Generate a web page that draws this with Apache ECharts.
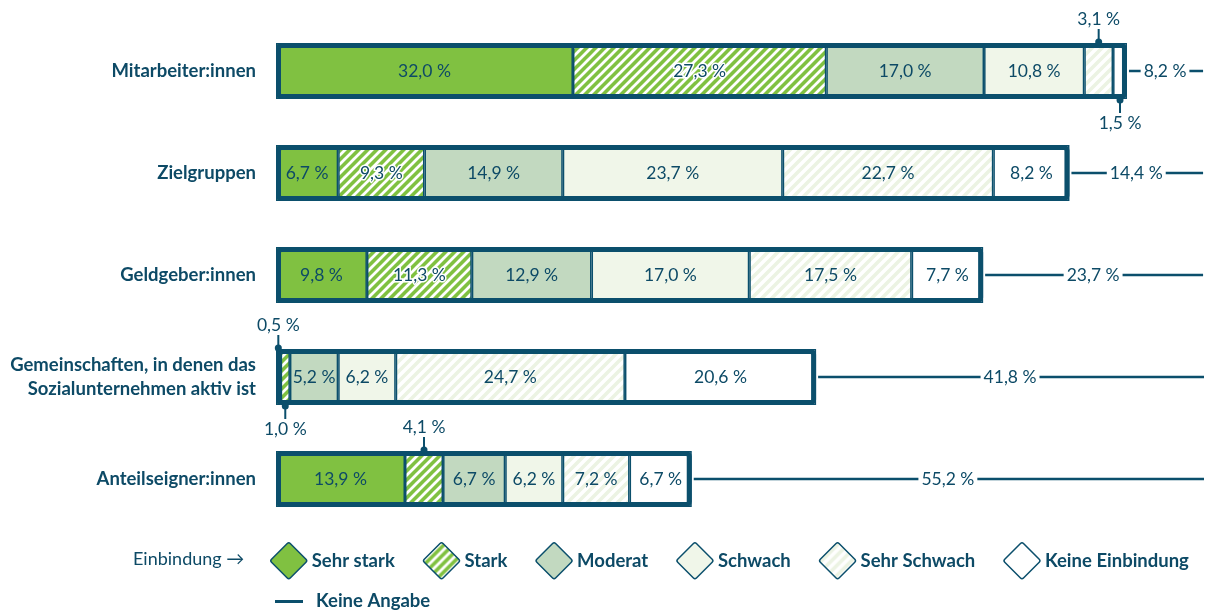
<!DOCTYPE html>
<html>
<head>
<meta charset="utf-8">
<script src="https://cdn.jsdelivr.net/npm/echarts@6/dist/echarts.min.js"></script>
<style>
  html, body { margin: 0; padding: 0; background: #fff; }
  #chart { width: 1209px; height: 611px; }
</style>
</head>
<body>
<div id="chart"></div>
<script>
const categories = [
  'Mitarbeiter:innen',
  'Zielgruppen',
  'Geldgeber:innen',
  'Gemeinschaften, in denen das\nSozialunternehmen aktiv ist',
  'Anteilseigner:innen'
]
const sehrStark = [32.0, 6.7, 9.8, 0.5, 13.9]
const stark = [27.3, 9.3, 11.3, 1.0, 4.1]
const moderat = [17.0, 14.9, 12.9, 5.2, 6.7]
const schwach = [10.8, 23.7, 17.0, 6.2, 6.2]
const sehrSchwach = [3.1, 22.7, 17.5, 24.7, 7.2]
const keineEinbindung = [1.5, 8.2, 7.7, 20.6, 6.7]
const keineAngabe = [8.2, 14.4, 23.7, 41.8, 55.2]
// [category index, segment index, side] for values too small to label inside
const outsideLabels = [[0, 4, 'top'], [0, 5, 'bottom'], [3, 0, 'top'], [3, 1, 'bottom'], [4, 1, 'top']]

const DARK = '#0b4f6c'
const TEXT = '#0d4a66'
const BAR_H = 56
const FONT = 'Lato, "Noto Sans", sans-serif'
const VALUE_SIZE = 17.5

const stripes = (bg, fg, size, width) => {
  const c = document.createElement('canvas')
  c.width = size
  c.height = size
  const ctx = c.getContext('2d')
  ctx.fillStyle = bg
  ctx.fillRect(0, 0, size, size)
  ctx.strokeStyle = fg
  ctx.lineWidth = width
  ctx.lineCap = 'square'
  for (const off of [-size, 0, size]) {
    ctx.beginPath()
    ctx.moveTo(off, size)
    ctx.lineTo(off + size, 0)
    ctx.stroke()
  }
  return { image: c, repeat: 'repeat' }
}

const fmt = (v) => v.toFixed(1).replace('.', ',') + ' %'

const segments = [
  { name: 'Sehr stark', data: sehrStark, color: '#80c141' },
  { name: 'Stark', data: stark, color: stripes('#80c141', '#ffffff', 9, 2.8), halo: true },
  { name: 'Moderat', data: moderat, color: '#c2d9c0' },
  { name: 'Schwach', data: schwach, color: '#f0f6e9' },
  { name: 'Sehr Schwach', data: sehrSchwach, color: stripes('#ffffff', '#ecf3e3', 10, 3.6) },
  { name: 'Keine Einbindung', data: keineEinbindung, color: '#ffffff' }
]

const isOutside = (ci, si) => outsideLabels.some((o) => o[0] === ci && o[1] === si)

const totals = categories.map((_, i) => segments.reduce((s, seg) => s + seg.data[i], 0))

const segmentStart = (ci, si) => {
  let s = 0
  for (let k = 0; k < si; k++) s += segments[k].data[ci]
  return s
}

const barSeries = segments.map((seg, si) => ({
  name: seg.name,
  type: 'bar',
  stack: 'total',
  barWidth: BAR_H,
  barGap: '-100%',
  data: seg.data,
  itemStyle: { color: seg.color, borderColor: DARK, borderWidth: 1.5 },
  label: {
    show: true,
    position: 'inside',
    color: TEXT,
    fontFamily: FONT,
    fontSize: VALUE_SIZE,
    textBorderColor: seg.halo ? '#fff' : 'transparent',
    textBorderWidth: seg.halo ? 3 : 0,
    formatter: (p) => (isOutside(p.dataIndex, si) ? '' : fmt(p.value))
  },
  emphasis: { disabled: true },
  z: 2
}))

const frameSeries = {
  name: 'frame',
  type: 'bar',
  barWidth: BAR_H,
  barGap: '-100%',
  data: totals,
  silent: true,
  itemStyle: { color: 'transparent', borderColor: DARK, borderWidth: 5, borderRadius: 3 },
  z: 3
}

const kaSeries = {
  name: 'Keine Angabe',
  type: 'custom',
  data: categories.map((_, i) => [i, totals[i], keineAngabe[i]]),
  itemStyle: { color: DARK },
  z: 4,
  silent: true,
  renderItem: (params, api) => {
    const ci = api.value(0)
    const start = api.value(1)
    const val = api.value(2)
    const a = api.coord([start, ci])
    const b = api.coord([start + val, ci])
    return {
      type: 'group',
      children: [
        { type: 'line', shape: { x1: a[0] + 2, y1: a[1], x2: b[0], y2: b[1] }, style: { stroke: DARK, lineWidth: 2.5 } },
        {
          type: 'text',
          x: (a[0] + b[0]) / 2,
          y: a[1],
          style: {
            text: fmt(val), fill: TEXT, font: VALUE_SIZE + 'px ' + FONT,
            align: 'center', verticalAlign: 'middle',
            backgroundColor: '#fff', padding: [2, 3]
          }
        }
      ]
    }
  }
}

const annotationSeries = {
  name: 'annotations',
  type: 'custom',
  data: outsideLabels.map((o) => {
    const v = segments[o[1]].data[o[0]]
    return [o[0], segmentStart(o[0], o[1]) + v / 2, v, o[2] === 'top' ? -1 : 1]
  }),
  z: 5,
  silent: true,
  renderItem: (params, api) => {
    const p = api.coord([api.value(1), api.value(0)])
    const dir = api.value(3)
    const edge = p[1] + dir * (BAR_H / 2 + 1)
    return {
      type: 'group',
      children: [
        { type: 'line', shape: { x1: p[0], y1: edge, x2: p[0], y2: edge + dir * 13 }, style: { stroke: DARK, lineWidth: 2 } },
        { type: 'circle', shape: { cx: p[0], cy: edge, r: 3.5 }, style: { fill: DARK } },
        {
          type: 'text',
          x: p[0],
          y: edge + dir * 14,
          style: {
            text: fmt(api.value(2)), fill: TEXT, font: VALUE_SIZE + 'px ' + FONT,
            align: 'center', verticalAlign: dir < 0 ? 'bottom' : 'top'
          }
        }
      ]
    }
  }
}

const chart = echarts.init(document.getElementById('chart'))
chart.setOption({
  animation: false,
  textStyle: { fontFamily: FONT },
  grid: { left: 276, right: 5, top: 20, bottom: 81 },
  xAxis: { type: 'value', min: 0, max: 100, show: false },
  yAxis: {
    type: 'category',
    inverse: true,
    data: categories,
    axisLine: { show: false },
    axisTick: { show: false },
    axisLabel: {
      margin: 20,
      color: TEXT,
      fontFamily: FONT,
      fontWeight: 'bold',
      fontSize: 18.5,
      lineHeight: 24,
      align: 'right',
      padding: [0, 0, 6, 0]
    }
  },
  legend: [
    {
      data: segments.map((s) => s.name),
      left: 265,
      top: 537,
      itemWidth: 36,
      itemHeight: 36,
      itemGap: 28,
      icon: 'path://M46,4 Q50,0 54,4 L96,46 Q100,50 96,54 L54,96 Q50,100 46,96 L4,54 Q0,50 4,46 Z',
      itemStyle: { borderColor: DARK, borderWidth: 1.5 },
      textStyle: { color: TEXT, fontFamily: FONT, fontWeight: 'bold', fontSize: 18.5 },
      selectedMode: false
    },
    {
      data: ['Keine Angabe'],
      left: 270,
      top: 587,
      icon: 'rect',
      itemWidth: 28,
      itemHeight: 3,
      textStyle: { color: TEXT, fontFamily: FONT, fontWeight: 'bold', fontSize: 18.5, padding: [0, 0, 0, 8] },
      selectedMode: false
    }
  ],
  graphic: [
    {
      type: 'text',
      left: 133,
      top: 550,
      style: { text: 'Einbindung →', fill: TEXT, font: '18px ' + FONT }
    }
  ],
  series: [...barSeries, frameSeries, kaSeries, annotationSeries]
})
</script>
</body>
</html>
